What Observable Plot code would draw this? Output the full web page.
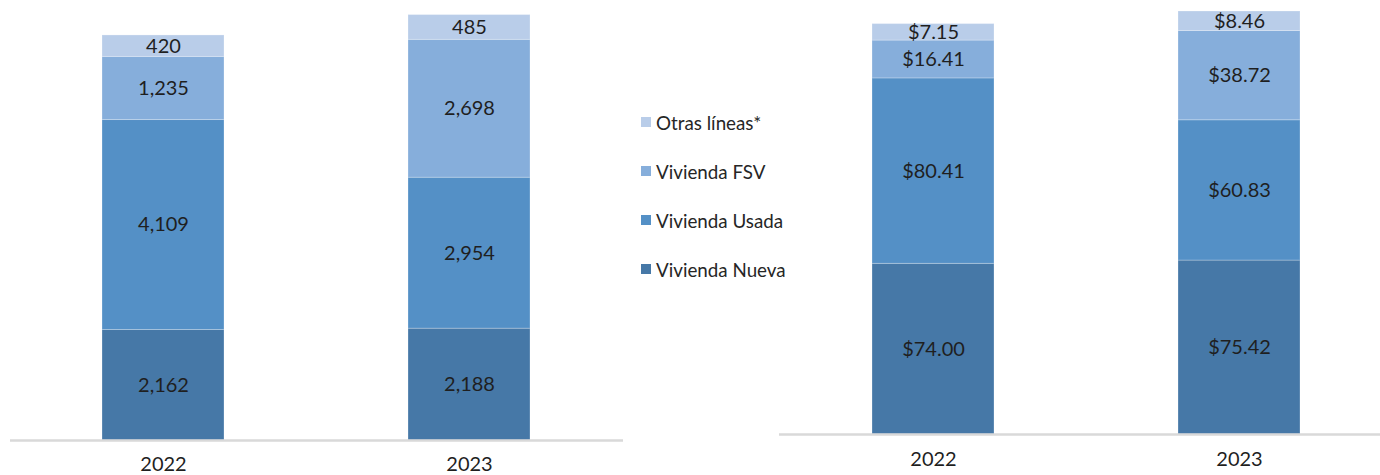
<!DOCTYPE html>
<html>
<head>
<meta charset="utf-8">
<script src="https://cdn.jsdelivr.net/npm/d3@7"></script>
<script src="https://cdn.jsdelivr.net/npm/@observablehq/plot@0.6"></script>
<style>
  html, body { margin: 0; padding: 0; background: #fff; }
  body { width: 1380px; height: 475px; position: relative; overflow: hidden; font-family: Lato, "Noto Sans", sans-serif; }
  #left { position: absolute; left: 0; top: 0; }
  #right { position: absolute; left: 760px; top: 0; }
  #legend { position: absolute; left: 641px; top: 0; }
  .item { position: absolute; left: 0; height: 20px; display: flex; align-items: center; white-space: nowrap; font-size: 18.8px; color: #262626; }
  .sw { width: 10px; height: 10px; margin-right: 5px; flex: none; }
</style>
</head>
<body>
<div id="left"></div>
<div id="legend"></div>
<div id="right"></div>
<script>
const years = ["2022", "2023"];
const series = ["Vivienda Nueva", "Vivienda Usada", "Vivienda FSV", "Otras líneas*"];
const colors = ["#4678a7", "#5490c6", "#86aedb", "#b9cde9"];
const count2022 = [2162, 4109, 1235, 420];
const count2023 = [2188, 2954, 2698, 485];
const amount2022 = [74.00, 80.41, 16.41, 7.15];
const amount2023 = [75.42, 60.83, 38.72, 8.46];

function rows(a, b) {
  const out = [];
  [a, b].forEach((vals, i) => vals.forEach((v, j) => out.push({year: years[i], series: series[j], value: v})));
  return out;
}
const countData = rows(count2022, count2023);
const amountData = rows(amount2022, amount2023);

function chart(data, opts) {
  return Plot.plot({
    width: opts.width,
    height: 475,
    marginLeft: opts.ml,
    marginRight: opts.mr,
    marginTop: 0,
    marginBottom: opts.mb,
    style: {fontFamily: "Lato, 'Noto Sans', sans-serif", background: "transparent"},
    x: {domain: years, paddingInner: 0.601, paddingOuter: opts.po, align: opts.align, label: null},
    y: {domain: [0, opts.ymax], axis: null},
    color: {domain: series, range: colors},
    marks: [
      Plot.barY(data, {x: "year", y: "value", fill: "series", order: series, stroke: "#ffffff", strokeOpacity: 0.25, strokeWidth: 1}),
      Plot.text(data, Plot.stackY({x: "year", y: "value", z: "series", order: series, text: d => opts.fmt(d.value), fontSize: 20, fill: "#1f1f1f"})),
      Plot.ruleY([0], {stroke: "#d9d9d9", strokeWidth: 2.5}),
      Plot.axisX({tickSize: 0, tickPadding: opts.tp, fontSize: 20, fill: "#1f1f1f", label: null})
    ]
  });
}

document.getElementById("left").append(chart(countData, {
  width: 640, ml: 10, mr: 17, mb: 35, po: 0.302, align: 0.5, ymax: 8610, tp: 16,
  fmt: d3.format(",")
}));
document.getElementById("right").append(chart(amountData, {
  width: 620, ml: 19, mr: 0, mb: 41, po: 0.2825, align: 0.538, ymax: 188.2, tp: 17,
  fmt: v => "$" + d3.format(".2f")(v)
}));

const legend = document.getElementById("legend");
const legendOrder = [3, 2, 1, 0];
legendOrder.forEach((j, k) => {
  const it = document.createElement("div");
  it.className = "item";
  it.style.top = (122 + k * 49 - 10) + "px";
  const sw = document.createElement("span");
  sw.className = "sw";
  sw.style.background = colors[j];
  const tx = document.createElement("span");
  tx.textContent = series[j];
  it.append(sw, tx);
  legend.append(it);
});
</script>
</body>
</html>
